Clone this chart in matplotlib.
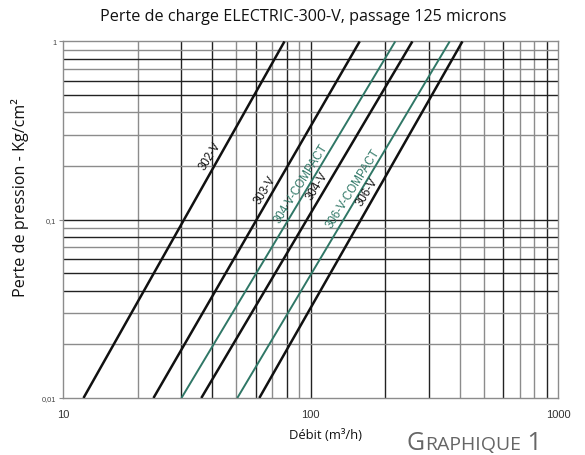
import numpy as np
import matplotlib.pyplot as plt
from matplotlib.ticker import FixedLocator, NullFormatter

# flow (m3/h) where each curve crosses 0.01 and 1 kg/cm2
models = ["302-V", "303-V", "304-V-COMPACT", "304-V", "306-V-COMPACT", "306-V"]
q_at_001 = [12.1, 23.2, 30.1, 36.2, 50.6, 62.1]
q_at_1 = [78.5, 158, 220, 258, 365, 411]
colors = ["#111111", "#111111", "#2f7766", "#111111", "#2f7766", "#111111"]
label_y = [0.217, 0.141, 0.153, 0.147, 0.143, 0.136]

x_grid = [20, 30, 40, 50, 60, 70, 80, 90, 100, 200, 300, 400, 500, 600, 700, 800, 900]
x_dark = [30, 40, 60, 80, 100, 200, 300, 600, 900]
y_grid = [0.02, 0.03, 0.04, 0.05, 0.06, 0.07, 0.08, 0.09, 0.1,
          0.2, 0.3, 0.4, 0.5, 0.6, 0.7, 0.8, 0.9]
y_dark = [0.04, 0.06, 0.08, 0.1, 0.6, 0.5, 0.8, 0.05]

fig = plt.figure(figsize=(5.85, 4.56), dpi=100)
ax = fig.add_axes([0.1077, 0.125, 0.8462, 0.782])
ax.set_xscale("log")
ax.set_yscale("log")
ax.set_xlim(10, 1000)
ax.set_ylim(0.01, 1)

for xv in x_grid:
    c = "#222222" if xv in x_dark else "#8c8c8c"
    ax.axvline(xv, color=c, lw=1.0, zorder=1)
for yv in y_grid:
    c = "#222222" if yv in y_dark else "#8c8c8c"
    ax.axhline(yv, color=c, lw=1.0, zorder=1)

for name, q0, q1, col, ly in zip(models, q_at_001, q_at_1, colors, label_y):
    ax.plot([q0, q1], [0.01, 1], color=col, lw=1.8 if col == "#111111" else 1.4,
            zorder=3, solid_capstyle="butt")
    # point on the line at label height, text pushed up-left of it
    k = np.log10(q1 / q0) / 2
    xl = q0 * 10 ** (k * (np.log10(ly) + 2))
    ax.annotate(name, xy=(xl, ly), xytext=(-5.2, 3.0), textcoords="offset points",
                rotation=58, rotation_mode="anchor", ha="center", va="center",
                fontsize=8.3, color=col, family="Liberation Sans", zorder=4)

for s in ax.spines.values():
    s.set_color("#8c8c8c")
    s.set_linewidth(1.0)

ax.xaxis.set_major_locator(FixedLocator([10, 100, 1000]))
ax.xaxis.set_minor_formatter(NullFormatter())
ax.set_xticklabels(["10", "100", "1000"])
ax.tick_params(axis="x", which="both", length=0, pad=8, labelsize=8, labelcolor="#333333")
ax.yaxis.set_major_locator(FixedLocator([0.01, 0.1, 1]))
ax.yaxis.set_minor_formatter(NullFormatter())
ax.set_yticklabels(["0,01", "0,1", "1"])
ax.tick_params(axis="y", which="major", length=3, color="#8c8c8c", pad=2,
               labelsize=5.3, labelcolor="#444444")
ax.tick_params(axis="y", which="minor", length=0)
for lab in ax.get_xticklabels() + ax.get_yticklabels():
    lab.set_family("Liberation Sans")

fig.text(0.518, 0.962, "Perte de charge ELECTRIC-300-V, passage 125 microns",
         ha="center", va="center", fontsize=11.6, family="Open Sans", color="#111111")
fig.text(0.034, 0.567, "Perte de pression - Kg/cm²", rotation=90,
         ha="center", va="center", fontsize=11.6, family="Open Sans", color="#111111")
fig.text(0.557, 0.046, "Débit (m³/h)", ha="center", va="center",
         fontsize=9.4, family="Open Sans", color="#111111")

# small caps "GRAPHIQUE 1", chained piece by piece
renderer = fig.canvas.get_renderer()
x_px = 407
for piece, size in [("G", 18), ("RAPHIQUE", 14), (" 1", 18)]:
    t = fig.text(x_px / 585, 6.0 / 456, piece, ha="left", va="baseline",
                 fontsize=size, family="Open Sans", color="#666666")
    x_px += t.get_window_extent(renderer).width

fig.savefig("out.png", dpi=100)
